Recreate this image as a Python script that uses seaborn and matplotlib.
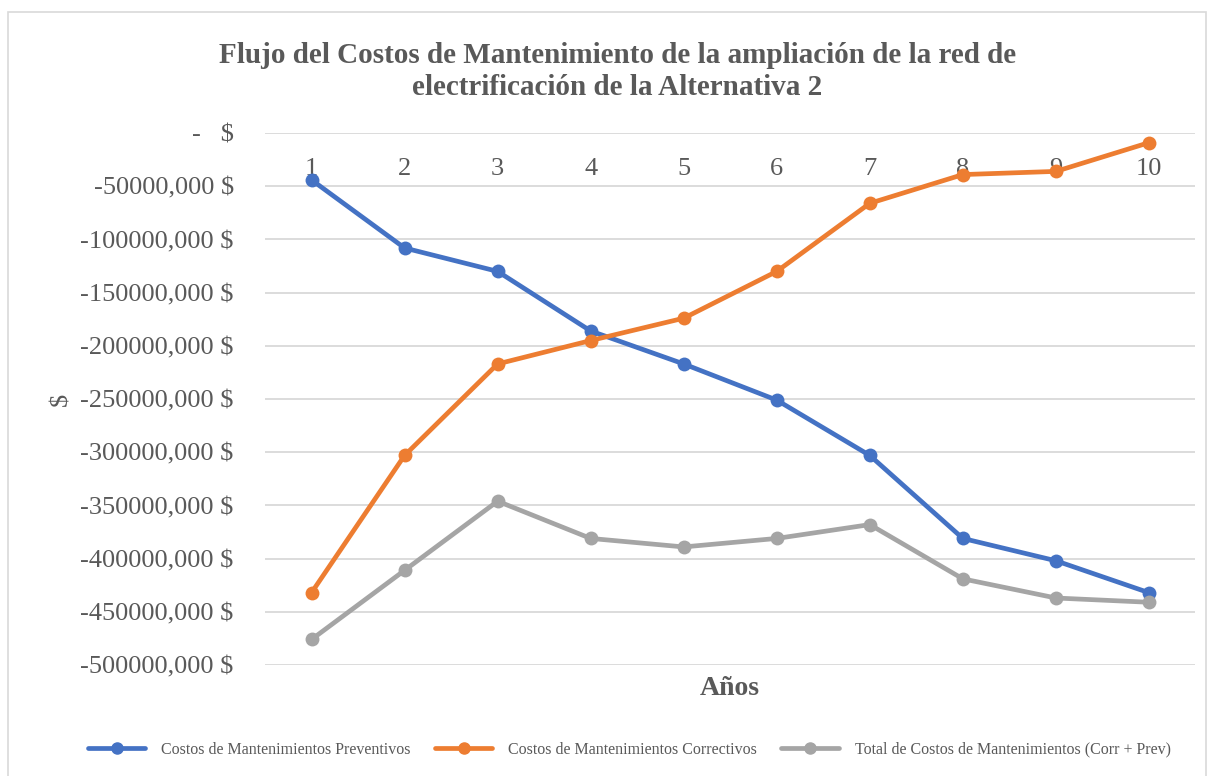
import pandas as pd
import matplotlib
matplotlib.use('Agg')
import matplotlib.pyplot as plt
import matplotlib.ticker as mticker
from matplotlib.patches import Rectangle
import seaborn as sns

years = [1, 2, 3, 4, 5, 6, 7, 8, 9, 10]
preventivos = [-44000, -108000, -130000, -186000, -217000, -251000, -303000, -381000, -402000, -432000]
correctivos = [-432000, -303000, -217000, -195000, -174000, -130000, -66000, -39000, -36000, -9000]
total = [-476000, -411000, -346000, -381000, -389000, -381000, -368000, -419000, -437000, -441000]

series_names = ['Costos de Mantenimientos Preventivos',
                'Costos de Mantenimientos Correctivos',
                'Total de Costos de Mantenimientos (Corr + Prev)']
colors = ['#4472C4', '#ED7D31', '#A5A5A5']

df = pd.DataFrame({'Año': years * 3,
                   'Valor': preventivos + correctivos + total,
                   'Serie': [series_names[0]] * 10 + [series_names[1]] * 10 + [series_names[2]] * 10})

sns.set_style('white')
plt.rcParams['font.family'] = ['Liberation Serif', 'DejaVu Serif']

fig = plt.figure(figsize=(12.1, 7.76), dpi=100)
ax = fig.add_axes([0.219, 0.143, 0.769, 0.6855])

sns.lineplot(data=df, x='Año', y='Valor', hue='Serie', palette=colors,
             marker='o', markersize=10, markeredgewidth=0, linewidth=3.4,
             ax=ax, legend=False, zorder=3)

ax.set_xlim(0.5, 10.5)
ax.set_ylim(-500000, 0)
ax.set_yticks(range(-500000, 1, 50000))
ax.yaxis.set_major_formatter(mticker.FuncFormatter(
    lambda v, p: '-   $' if v == 0 else f'{int(v)},000 $'))
ax.set_xticks(years)
ax.xaxis.tick_top()
ax.tick_params(axis='x', top=False, pad=-37, labelsize=19, labelcolor='#595959')
ax.tick_params(axis='y', left=False, pad=19, labelsize=19, labelcolor='#595959')
for lbl in ax.get_xticklabels():
    lbl.set_zorder(1)

ax.grid(axis='y', color='#d9d9d9', linewidth=1.3, zorder=0)
ax.grid(axis='x', visible=False)
for s in ax.spines.values():
    s.set_visible(False)

ax.set_xlabel('Años', fontsize=20, fontweight='bold', color='#595959', labelpad=8)
ax.set_ylabel('$', fontsize=19, color='#595959', labelpad=6)
ax.xaxis.set_label_position('bottom')

fig.suptitle('Flujo del Costos de Mantenimiento de la ampliación de la red de\nelectrificación de la Alternativa 2',
             fontsize=21, fontweight='bold', color='#595959', x=0.51, y=0.946, linespacing=1.25)

handles = [plt.Line2D([], [], color=c, linewidth=3.4, marker='o', markersize=8) for c in colors]
fig.legend(handles, series_names, loc='lower center', bbox_to_anchor=(0.52, 0.005), ncol=3,
           frameon=False, fontsize=11.5, handlelength=3.6, handletextpad=1.0,
           columnspacing=1.5, labelcolor='#595959')

fig.patches.append(Rectangle((0.007, -0.01), 0.99, 0.995, transform=fig.transFigure,
                             fill=False, edgecolor='#d9d9d9', linewidth=1.2))

fig.savefig('out.png', dpi=100)
